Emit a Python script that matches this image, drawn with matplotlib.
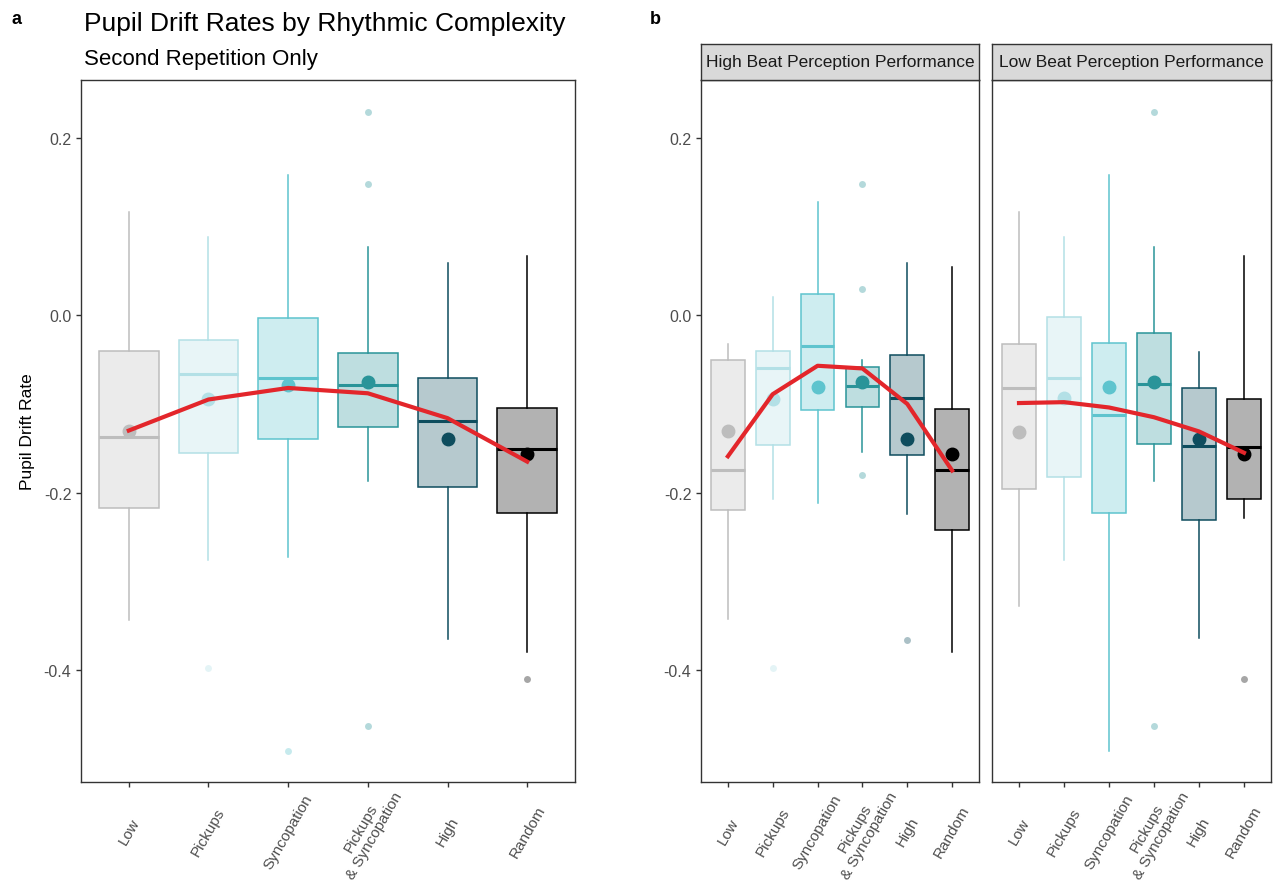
import numpy as np
import matplotlib.pyplot as plt
from matplotlib.colors import to_rgba
from matplotlib.transforms import ScaledTranslation

plt.rcParams['font.family'] = ['Liberation Sans', 'DejaVu Sans']

# categories and colours
categories = ["Low", "Pickups", "Syncopation", "Pickups\n& Syncopation", "High", "Random"]
colors = ["#BDBDBD", "#B3E0E6", "#5EC4CE", "#2A9499", "#0E4D5E", "#000000"]
yticks = [0.2, 0.0, -0.2, -0.4]
yticklabels = ["0.2", "0.0", "-0.2", "-0.4"]
facets = ["High Beat Perception Performance", "Low Beat Perception Performance"]

# panel a: all participants
a_whislo = [-0.343, -0.276, -0.272, -0.187, -0.365, -0.379]
a_q1 = [-0.217, -0.155, -0.139, -0.126, -0.194, -0.223]
a_med = [-0.137, -0.066, -0.071, -0.079, -0.119, -0.151]
a_q3 = [-0.040, -0.028, -0.003, -0.043, -0.071, -0.105]
a_whishi = [0.116, 0.088, 0.158, 0.077, 0.059, 0.067]
a_mean = [-0.131, -0.095, -0.079, -0.075, -0.139, -0.156]
a_fliers = [[], [-0.398], [-0.491], [0.229, 0.148, -0.463], [], [-0.410]]
a_fit = [-0.130, -0.095, -0.082, -0.088, -0.116, -0.165]

# panel b: high beat perception
h_whislo = [-0.342, -0.207, -0.212, -0.154, -0.224, -0.379]
h_q1 = [-0.219, -0.146, -0.107, -0.103, -0.157, -0.242]
h_med = [-0.175, -0.060, -0.035, -0.080, -0.093, -0.175]
h_q3 = [-0.050, -0.040, 0.024, -0.058, -0.045, -0.106]
h_whishi = [-0.033, 0.021, 0.127, -0.050, 0.059, 0.054]
h_mean = [-0.131, -0.095, -0.081, -0.075, -0.139, -0.156]
h_fliers = [[], [-0.398], [], [0.148, 0.029, -0.180], [-0.366], []]
h_fit = [-0.159, -0.089, -0.057, -0.060, -0.100, -0.175]

# panel b: low beat perception
l_whislo = [-0.328, -0.276, -0.491, -0.187, -0.364, -0.228]
l_q1 = [-0.196, -0.182, -0.223, -0.145, -0.231, -0.207]
l_med = [-0.082, -0.071, -0.113, -0.078, -0.147, -0.148]
l_q3 = [-0.033, -0.002, -0.031, -0.020, -0.082, -0.094]
l_whishi = [0.116, 0.088, 0.158, 0.077, -0.042, 0.067]
l_mean = [-0.132, -0.093, -0.081, -0.075, -0.140, -0.156]
l_fliers = [[], [], [], [0.229, -0.463], [], [-0.410]]
l_fit = [-0.099, -0.098, -0.104, -0.115, -0.131, -0.155]


def draw_panel(ax, whislo, q1, med, q3, whishi, means, fliers, fit, ylabels=True):
    x = np.arange(1, len(categories) + 1)
    for i in range(len(categories)):
        c = colors[i]
        stats = [dict(whislo=whislo[i], q1=q1[i], med=med[i], q3=q3[i],
                      whishi=whishi[i], fliers=fliers[i])]
        ax.bxp(stats, positions=[x[i]], widths=0.75, patch_artist=True, showcaps=False,
               boxprops=dict(facecolor=to_rgba(c, 0.3), edgecolor=c, linewidth=1.1),
               whiskerprops=dict(color=c, linewidth=1.1),
               medianprops=dict(color=c, linewidth=2.2),
               flierprops=dict(marker='o', markersize=5, markerfacecolor=to_rgba(c, 0.35),
                               markeredgecolor='none'))
        ax.plot(x[i], means[i], 'o', color=c, markersize=9, zorder=4)
    ax.plot(x, fit, color='#E3262B', linewidth=3, zorder=5)
    ax.set_xlim(0.4, 6.6)
    ax.set_ylim(-0.526, 0.265)
    ax.set_xticks(x)
    ax.set_xticklabels(categories, rotation=60, ha='center', va='center',
                       rotation_mode='anchor', multialignment='center', fontsize=11, color='#4D4D4D')
    for lab in ax.get_xticklabels():
        lab.set_transform(lab.get_transform() + ScaledTranslation(0.03, 0, fig.dpi_scale_trans))
    for s in ax.spines.values():
        s.set_color('#333333')
        s.set_linewidth(1.0)
    ax.tick_params(axis='both', length=3.5, width=1, color='#333333')
    ax.tick_params(axis='x', pad=32)
    if ylabels:
        ax.set_yticks(yticks)
        ax.set_yticklabels(yticklabels, fontsize=11.5, color='#4D4D4D')
    else:
        ax.set_yticks([])


fig = plt.figure(figsize=(12.8, 8.95), dpi=100)

W, H = 1280, 895


def box(l, t, r, b):
    return [l / W, (H - b) / H, (r - l) / W, (b - t) / H]


ax_a = fig.add_axes(box(81, 81, 575, 783))
draw_panel(ax_a, a_whislo, a_q1, a_med, a_q3, a_whishi, a_mean, a_fliers, a_fit)
ax_a.set_ylabel("Pupil Drift Rate", fontsize=12.5, labelpad=6)

ax_h = fig.add_axes(box(701, 81, 979, 783))
draw_panel(ax_h, h_whislo, h_q1, h_med, h_q3, h_whishi, h_mean, h_fliers, h_fit)

ax_l = fig.add_axes(box(992, 81, 1271, 783))
draw_panel(ax_l, l_whislo, l_q1, l_med, l_q3, l_whishi, l_mean, l_fliers, l_fit, ylabels=False)

# facet strips
for (l, r), name in zip([(701, 979), (992, 1271)], facets):
    st = fig.add_axes(box(l, 45, r, 81))
    st.set_facecolor('#D9D9D9')
    st.set_xticks([])
    st.set_yticks([])
    for s in st.spines.values():
        s.set_color('#333333')
        s.set_linewidth(1.0)
    st.text(0.5, 0.5, name, ha='center', va='center', fontsize=12.5, color='#1A1A1A',
            transform=st.transAxes)

# titles
fig.text(84 / W, 1 - 31 / H, "Pupil Drift Rates by Rhythmic Complexity", fontsize=19,
         va='baseline', ha='left')
fig.text(84 / W, 1 - 65 / H, "Second Repetition Only", fontsize=16, va='baseline', ha='left')
fig.text(12 / W, 1 - 24 / H, "a", fontsize=13, fontweight='bold', va='baseline')
fig.text(650 / W, 1 - 24 / H, "b", fontsize=13, fontweight='bold', va='baseline')

plt.savefig("out.png", dpi=100)
